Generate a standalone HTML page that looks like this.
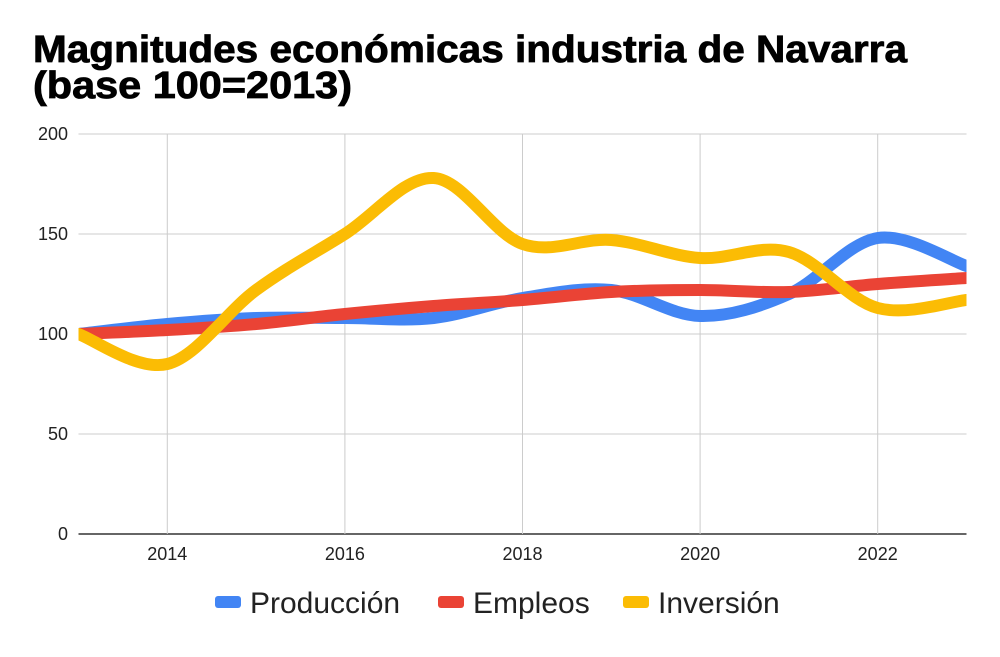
<!DOCTYPE html>
<html><head><meta charset="utf-8"><style>
body{margin:0;background:#fff;width:1000px;height:652px;overflow:hidden;font-family:"Liberation Sans",sans-serif}
</style></head><body>
<svg id="chart" width="1000" height="652" xmlns="http://www.w3.org/2000/svg">
<text x="33" y="62" font-size="38" font-weight="bold" fill="#000" stroke="#000" stroke-width="0.8" textLength="874" lengthAdjust="spacingAndGlyphs" font-family="Liberation Sans, sans-serif">Magnitudes económicas industria de Navarra</text>
<text x="33" y="98" font-size="38" font-weight="bold" fill="#000" stroke="#000" stroke-width="0.8" textLength="319" lengthAdjust="spacingAndGlyphs" font-family="Liberation Sans, sans-serif">(base 100=2013)</text>
<g id="grid"></g><g id="series"></g><g id="axes"></g>
<g font-size="30" fill="#222">
<g><rect x="215" y="596" width="26" height="12" rx="3" fill="#4285f4"/><text x="250" y="613">Producción</text></g>
<g><rect x="438" y="596" width="26" height="12" rx="3" fill="#ea4335"/><text x="473" y="613">Empleos</text></g>
<g><rect x="623" y="596" width="26" height="12" rx="3" fill="#fbbc04"/><text x="658" y="613">Inversión</text></g>
</g>
</svg>
<script>
const years=[2013,2014,2015,2016,2017,2018,2019,2020,2021,2022,2023];
const produccion=[100,105,108,108,108,118,122,109,120,148,134];
const empleos=[100,102,105,110,114,117,121,122,121,125,128];
const inversion=[100,85,122,150,178,145,147,138,141,113,117];
const yTicks=[0,50,100,150,200];
const xTicks=[2014,2016,2018,2020,2022];
const NS="http://www.w3.org/2000/svg";
const X0=78.5,X1=966.5,Y0=534,Y1=134;
const x=v=>X0+(v-2013)/10*(X1-X0);
const y=v=>Y0-(v/200)*(Y0-Y1);
function mk(t,a,p){const e=document.createElementNS(NS,t);for(const k in a)e.setAttribute(k,a[k]);p.appendChild(e);return e;}
const grid=document.getElementById('grid'),axes=document.getElementById('axes'),ser=document.getElementById('series');
yTicks.forEach(t=>{
 const l=mk('line',{x1:X0,x2:X1,y1:y(t),y2:y(t),stroke:t===0?'#333':'#ccc','stroke-width':t===0?1.5:1},grid);
 
 
 const tx=mk('text',{x:68,y:y(t)+6,'text-anchor':'end','font-size':18,fill:'#222'},axes);tx.textContent=t;
 
 
});
xTicks.forEach(t=>{
 const l=mk('line',{x1:x(t),x2:x(t),y1:Y1,y2:Y0,stroke:'#ccc','stroke-width':1},grid);
 
 
 const tx=mk('text',{x:x(t),y:560,'text-anchor':'middle','font-size':18,fill:'#222'},axes);tx.textContent=t;
 
 
});
function path(vals){
 const p=vals.map((v,i)=>[x(years[i]),y(v)]);
 let d='M'+p[0][0]+','+p[0][1];
 for(let i=0;i<p.length-1;i++){
  const p0=p[i-1]||p[i],p1=p[i],p2=p[i+1],p3=p[i+2]||p2;
  const c1=[p1[0]+(p2[0]-p0[0])/6,p1[1]+(p2[1]-p0[1])/6];
  const c2=[p2[0]-(p3[0]-p1[0])/6,p2[1]-(p3[1]-p1[1])/6];
  d+=`C${c1[0]},${c1[1]} ${c2[0]},${c2[1]} ${p2[0]},${p2[1]}`;
 }
 return d;
}
const clip=mk('clipPath',{id:'pc'},document.getElementById('chart'));
mk('rect',{x:X0,y:0,width:X1-X0,height:600},clip);
[['produccion',produccion,'#4285f4'],['empleos',empleos,'#ea4335'],['inversion',inversion,'#fbbc04']].forEach(s=>{
 const e=mk('path',{d:path(s[1]),fill:'none',stroke:s[2],'stroke-width':12,'stroke-linecap':'round','clip-path':'url(#pc)'},ser);
 
 
});
</script>
</body></html>
